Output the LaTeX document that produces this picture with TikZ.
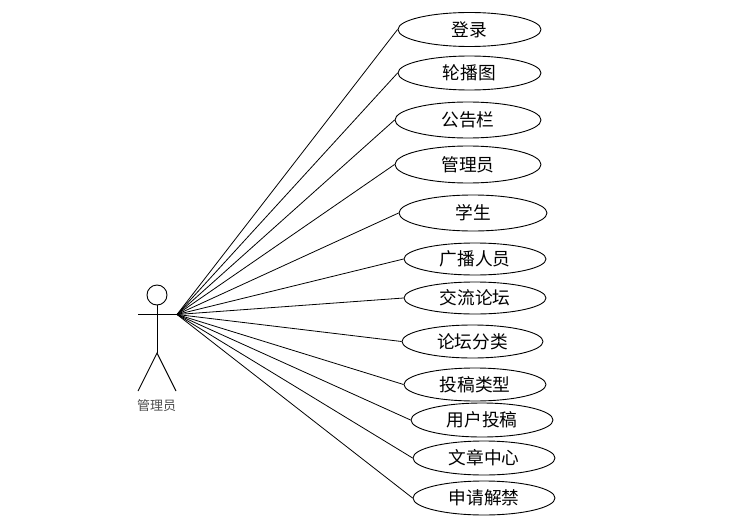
\documentclass[tikz,border=0pt]{standalone}
\usepackage{fontspec}
\setmainfont{Noto Sans CJK SC}
\usetikzlibrary{positioning,shapes.geometric}
\tikzset{
  usecase/.style={ellipse, draw=black, line width=0.9pt, fill=white, inner sep=0pt,
                  minimum width=#1, minimum height=34pt,
                  font=\fontsize{17.7}{20}\selectfont},
  usecase/.default=143pt,
  limb/.style={draw=black, line width=0.9pt},
  assoc/.style={draw=black, line width=0.8pt},
  actorname/.style={font=\fontsize{13}{15}\selectfont, text=black!70, inner sep=0pt},
}
\begin{document}
\begin{tikzpicture}[x=1pt,y=-1pt]
  \useasboundingbox (0,0) rectangle (755,527);
  % actor
  \node[circle,limb,minimum size=20pt,inner sep=0pt] (head) at (157,295) {};
  \coordinate (hip) at (157,353);
  \coordinate (armL) at (138,314.5);
  \coordinate (hub) at (177,314.5);
  \coordinate (footL) at (138,391);
  \coordinate (footR) at (176,391);
  \draw[limb] (head.south) -- (hip);
  \draw[limb] (armL) -- (hub);
  \draw[limb] (footL) -- (hip) -- (footR);
  \node[actorname] (actor) at (156.5,405.5) {管理员};
  % use cases
  \node[usecase] (login) at (469.5,29.5) {登录};
  \node[usecase] (banner) at (469.5,73) {轮播图};
  \node[usecase=146pt,minimum height=36pt] (notice) at (468,120) {公告栏};
  \node[usecase=146pt,minimum height=37pt] (admin) at (468,164.5) {管理员};
  \node[usecase=148pt,minimum height=36pt] (student) at (473,213) {学生};
  \node[usecase=142pt,minimum height=32pt] (staff) at (475,259) {广播人员};
  \node[usecase=142pt,minimum height=32pt] (forum) at (475,298) {交流论坛};
  \node[usecase=141pt,minimum height=33pt] (forumcat) at (472.5,341.5) {论坛分类};
  \node[usecase=142pt,minimum height=33pt] (posttype) at (475,384.5) {投稿类型};
  \node[usecase=142pt] (userpost) at (482,420) {用户投稿};
  \node[usecase=142pt] (article) at (484,458) {文章中心};
  \node[usecase=142pt] (unban) at (484,498) {申请解禁};
  % associations
  \foreach \c in {login,banner,notice,admin,student,staff,forum,forumcat,posttype,userpost,article,unban}{
    \draw[assoc] (hub) -- (\c.west);
  }
\end{tikzpicture}
\end{document}
